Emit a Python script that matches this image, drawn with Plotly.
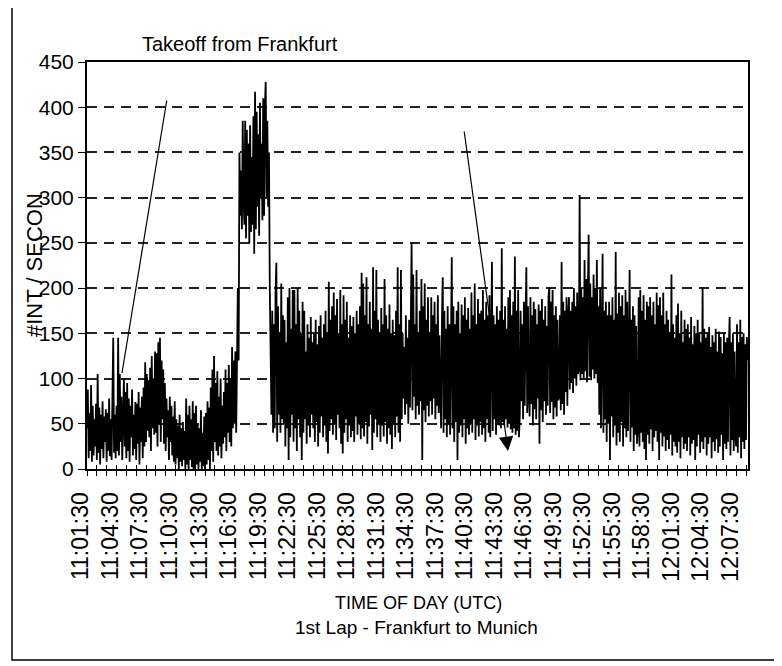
import plotly.graph_objects as go

# ---------------- data ----------------
SAMPLE_SECONDS = 5          # one reading every 5 s, starting 11:01:30
LABEL_STEP_S = 180          # a time label every 3 minutes
MINOR_STEP_S = 60           # a tick mark every minute
X_END_S = 4032

time_labels = ["11:01:30", "11:04:30", "11:07:30", "11:10:30", "11:13:30",
               "11:16:30", "11:19:30", "11:22:30", "11:25:30", "11:28:30",
               "11:31:30", "11:34:30", "11:37:30", "11:40:30", "11:43:30",
               "11:46:30", "11:49:30", "11:52:30", "11:55:30", "11:58:30",
               "12:01:30", "12:04:30", "12:07:30"]

y_ticks = [0, 50, 100, 150, 200, 250, 300, 350, 400, 450]

# on the ground at Frankfurt (11:01:30 - 11:16:30)
ground_phase = [
    45, 88, 12, 62, 20, 93, 8, 70, 15, 55, 25, 72,
    10, 105, 18, 68, 5, 60, 22, 75, 12, 58, 30, 66,
    8, 62, 20, 78, 14, 55, 10, 70, 145, 18, 60, 12,
    70, 20, 145, 15, 105, 30, 80, 10, 62, 100, 25, 85,
    12, 95, 20, 78, 8, 70, 35, 88, 15, 60, 22, 74,
    10, 72, 28, 85, 5, 68, 30, 80, 12, 90, 25, 118,
    30, 105, 42, 98, 35, 112, 20, 125, 45, 100, 38, 130,
    40, 128, 25, 140, 50, 145, 30, 120, 55, 110, 28, 95,
    20, 78, 35, 65, 10, 80, 30, 70, 15, 58, 8, 75,
    5, 55, 12, 48, 0, 60, 8, 45, 3, 52, 10, 42,
    0, 78, 5, 60, 0, 70, 10, 55, 2, 75, 0, 62,
    0, 70, 5, 50, 0, 45, 8, 65, 0, 40, 3, 58,
    0, 62, 5, 75, 10, 68, 0, 90, 20, 110, 8, 125,
    30, 95, 20, 108, 15, 80, 25, 100, 12, 70, 28, 85,
    35, 110, 20, 95, 40, 115, 30, 100, 25, 135, 45, 120,
]

# takeoff and climb (11:16:30 - 11:22:30)
climb_phase = [
    50, 130, 40, 110, 200, 120, 350, 280, 330, 265, 385, 300,
    270, 385, 255, 375, 280, 360, 250, 380, 262, 345, 270, 390,
    238, 417, 265, 395, 290, 370, 258, 405, 300, 360, 275, 410,
    280, 400, 428, 300, 385, 290, 350, 200, 150, 60, 175, 40,
    160, 45, 195, 228, 30, 180, 60, 150, 40, 205, 55, 170,
    50, 165, 25, 140, 45, 190, 10, 200, 35, 155, 60, 198,
]

# en route to Munich (11:22:30 - 12:08:40)
cruise_phase = [
    30, 198, 45, 160, 20, 200, 55, 175, 35, 150, 10, 185,
    40, 175, 55, 130, 28, 160, 48, 145, 35, 168, 60, 140,
    45, 150, 30, 165, 52, 138, 25, 158, 40, 170, 58, 145,
    35, 160, 48, 175, 30, 150, 17, 207, 42, 165, 55, 180,
    38, 195, 50, 170, 32, 188, 60, 150, 45, 198, 28, 160,
    17, 192, 40, 165, 55, 185, 30, 145, 48, 170, 35, 158,
    42, 168, 30, 150, 58, 175, 38, 160, 50, 180, 33, 217,
    45, 205, 36, 170, 52, 212, 28, 160, 47, 185, 60, 155,
    21, 223, 40, 175, 55, 220, 35, 165, 50, 150, 30, 178,
    48, 160, 36, 210, 52, 170, 28, 155, 45, 182, 38, 150,
    22, 165, 50, 148, 35, 175, 58, 223, 40, 160, 30, 220,
    55, 150, 78, 135, 60, 170, 72, 145, 50, 165, 68, 190,
    251, 65, 215, 80, 160, 55, 220, 70, 150, 60, 175, 75,
    210, 10, 180, 65, 205, 52, 165, 70, 190, 58, 150, 75,
    190, 60, 170, 78, 185, 55, 160, 70, 192, 62, 148, 80,
    45, 165, 212, 40, 175, 55, 155, 35, 180, 50, 160, 38,
    170, 234, 45, 180, 30, 160, 52, 175, 10, 185, 40, 150,
    48, 182, 35, 170, 55, 190, 28, 165, 45, 178, 38, 155,
    50, 195, 40, 170, 55, 205, 32, 160, 48, 188, 36, 172,
    52, 175, 38, 198, 45, 165, 30, 185, 55, 170, 40, 192,
    35, 185, 229, 42, 170, 55, 160, 38, 180, 50, 165, 48,
    175, 45, 244, 52, 165, 48, 180, 55, 155, 46, 190, 50,
    198, 44, 170, 40, 185, 45, 235, 38, 175, 42, 198, 35,
    60, 175, 75, 160, 55, 185, 70, 165, 223, 62, 180, 80,
    58, 190, 72, 170, 48, 185, 66, 177, 55, 160, 78, 182,
    28, 175, 65, 188, 52, 165, 75, 180, 60, 158, 70, 190,
    201, 62, 185, 74, 198, 55, 170, 68, 180, 58, 165, 76,
    80, 170, 65, 229, 72, 185, 60, 175, 85, 190, 70, 168,
    190, 88, 175, 95, 185, 84, 200, 100, 180, 92, 195, 105,
    110, 303, 98, 200, 105, 190, 100, 231, 108, 210, 96, 195,
    259, 102, 205, 98, 190, 110, 215, 100, 200, 105, 231, 95,
    180, 60, 200, 45, 190, 238, 40, 175, 55, 185, 30, 170,
    50, 185, 10, 170, 58, 190, 35, 165, 48, 240, 26, 172,
    40, 195, 30, 180, 52, 192, 25, 170, 45, 198, 35, 185,
    42, 175, 220, 30, 165, 46, 180, 20, 170, 38, 158, 28,
    45, 190, 25, 198, 40, 175, 30, 192, 22, 165, 10, 185,
    38, 180, 28, 190, 44, 170, 20, 185, 35, 160, 42, 195,
    30, 181, 10, 190, 40, 170, 25, 195, 36, 160, 20, 175,
    32, 165, 22, 150, 38, 215, 15, 160, 30, 145, 25, 170,
    18, 183, 30, 150, 12, 175, 35, 140, 22, 165, 28, 155,
    20, 160, 35, 145, 15, 168, 28, 138, 32, 158, 10, 150,
    25, 165, 38, 150, 18, 140, 30, 201, 22, 155, 35, 145,
    15, 150, 28, 157, 35, 135, 12, 148, 30, 140, 20, 155,
    33, 130, 18, 152, 25, 146, 38, 128, 10, 150, 28, 140,
    22, 145, 30, 135, 168, 15, 140, 32, 150, 20, 130, 36,
    25, 160, 18, 140, 35, 165, 12, 146, 30, 150, 22, 138,
    32, 146, 120,
]

# ---------------- build ----------------
values = ground_phase + climb_phase + cruise_phase
seconds = [i * SAMPLE_SECONDS for i in range(len(values))]

tick_vals = list(range(0, seconds[-1] + 1, MINOR_STEP_S))
tick_text = [time_labels[v // LABEL_STEP_S] if v % LABEL_STEP_S == 0 else ""
             for v in tick_vals]

PAGE_OFFSET = 8                      # browser body margin
W, H = 782 - PAGE_OFFSET, 666 - PAGE_OFFSET
PLOT_L, PLOT_R, PLOT_T, PLOT_B = 87, 748, 62, 469   # in window pixels
ML = PLOT_L - PAGE_OFFSET
MT = PLOT_T - PAGE_OFFSET
MR = W - (PLOT_R - PAGE_OFFSET)
MB = H - (PLOT_B - PAGE_OFFSET)
PW, PH = PLOT_R - PLOT_L, PLOT_B - PLOT_T


def px(x):
    return (x - PLOT_L) / PW


def py(y):
    return (PLOT_B - y) / PH


FONT = "Arial, 'Liberation Sans', sans-serif"

fig = go.Figure()
fig.add_trace(go.Scatter(x=seconds, y=values, mode="lines",
                         line=dict(color="black", width=1.8),
                         showlegend=False, hoverinfo="skip"))
fig.add_trace(go.Scatter(x=[], y=[], xaxis="x2", yaxis="y",
                         showlegend=False, hoverinfo="skip"))

fig.update_layout(
    width=W, height=H,
    margin=dict(l=ML, r=MR, t=MT, b=MB),
    paper_bgcolor="white", plot_bgcolor="white",
    font=dict(family=FONT, color="black"),
    xaxis=dict(range=[0, X_END_S], tickmode="array", tickvals=tick_vals,
               ticktext=tick_text, ticks="outside", ticklen=5, tickwidth=1.2,
               tickcolor="black", tickangle=-90,
               tickfont=dict(family=FONT, size=23, color="black"),
               ticklabelshift=-6, ticklabelstandoff=7,
               showline=True, linewidth=2, linecolor="black", mirror=True,
               showgrid=False, zeroline=False),
    xaxis2=dict(range=[0, X_END_S], overlaying="x", anchor="y", side="bottom",
                tickmode="array", tickvals=tick_vals, ticks="inside",
                ticklen=4, tickwidth=1.2, tickcolor="black",
                showticklabels=False, showgrid=False, zeroline=False,
                showline=False),
    yaxis=dict(range=[0, 450], tickmode="array", tickvals=y_ticks,
               ticks="outside", ticklen=7, tickwidth=1.2, tickcolor="black",
               tickfont=dict(family=FONT, size=21, color="black"),
               showline=True, linewidth=2, linecolor="black", mirror=True,
               showgrid=True, gridcolor="#222222", gridwidth=1.6,
               griddash="10px,7px", zeroline=False),
    shapes=[dict(type="rect", xref="paper", yref="paper",
                 x0=px(12), x1=px(777), y0=py(660), y1=py(7),
                 line=dict(color="black", width=1.5))],
    annotations=[
        dict(text="Takeoff from Frankfurt", xref="paper", yref="paper",
             x=px(240), y=py(44), xanchor="center", yanchor="middle",
             showarrow=False, font=dict(size=20)),
        dict(text="#INT / SECON", xref="paper", yref="paper",
             x=px(34), y=py(265), xanchor="center", yanchor="middle",
             textangle=-90, showarrow=False, font=dict(size=22)),
        dict(text="TIME OF DAY (UTC)", xref="paper", yref="paper",
             x=px(418), y=py(603), xanchor="center", yanchor="middle",
             showarrow=False, font=dict(size=18)),
        dict(text="1st Lap - Frankfurt to Munich", xref="paper", yref="paper",
             x=px(416), y=py(627), xanchor="center", yanchor="middle",
             showarrow=False, font=dict(size=19)),
        dict(text="", xref="paper", yref="paper", x=px(122), y=py(373),
             ax=167 - 122, ay=99 - 373, showarrow=True, arrowhead=0,
             arrowwidth=1.2, arrowcolor="black"),
        dict(text="", xref="paper", yref="paper", x=px(508), y=py(451),
             ax=464 - 508, ay=130 - 451, showarrow=True, arrowhead=2,
             arrowsize=2.4, arrowwidth=1.2, arrowcolor="black"),
    ],
)

fig.write_html("out.html")
